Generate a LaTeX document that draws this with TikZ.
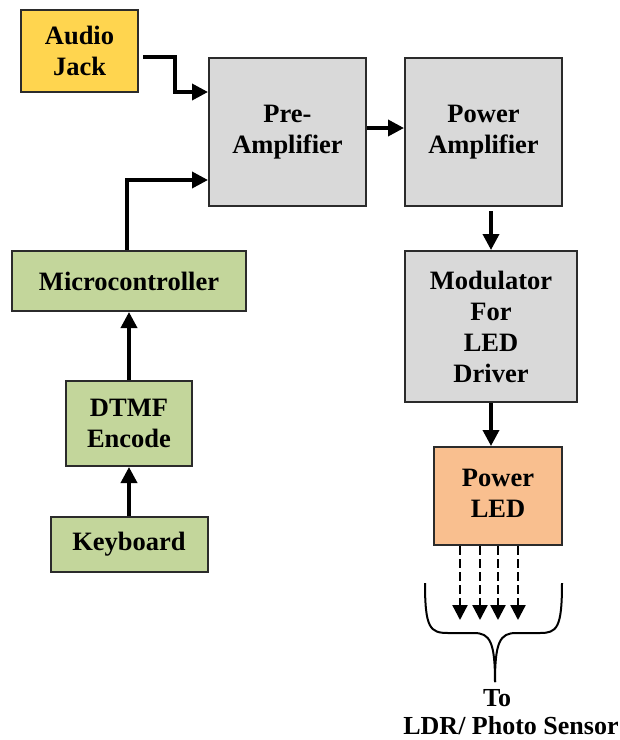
\documentclass[tikz,border=0pt]{standalone}
\usepackage{fontspec}
\setmainfont{Liberation Serif}
\usetikzlibrary{arrows.meta}
\definecolor{cyel}{HTML}{FFD54F}
\definecolor{cgray}{HTML}{D9D9D9}
\definecolor{cgreen}{HTML}{C3D69B}
\definecolor{corange}{HTML}{F9BF8F}
\definecolor{cedge}{HTML}{2B2B2B}
\begin{document}
\begin{tikzpicture}[x=1pt,y=-1pt,
  blk/.style={draw=cedge,line width=2pt,align=center,inner sep=0pt,
    font=\fontsize{26.5}{31}\selectfont\bfseries},
  arr/.style={line width=3.6pt,-{Triangle[length=16pt,width=16pt]}},
  darr/.style={line width=2.3pt,dash pattern=on 9pt off 4pt,-{Triangle[length=15pt,width=15pt]}},
  lbl/.style={font=\fontsize{26}{31}\selectfont\bfseries,inner sep=0pt}]
\useasboundingbox (0,0) rectangle (620,740);
\node[blk,fill=cyel,minimum width=117pt,minimum height=82pt] (audio) at (79.5,51) {Audio\\Jack};
\node[blk,fill=cgray,minimum width=157pt,minimum height=148pt] (pre) at (287.5,132) {Pre-\\Amplifier};
\node[blk,fill=cgray,minimum width=157pt,minimum height=148pt] (pow) at (483.5,132) {Power\\Amplifier};
\node[blk,fill=cgray,minimum width=172pt,minimum height=151pt] (mod) at (491,326.5) {Modulator\\For\\LED\\Driver};
\node[blk,fill=corange,minimum width=128pt,minimum height=98pt] (led) at (498,496) {\raisebox{7pt}{\begin{tabular}{@{}c@{}}Power\\LED\end{tabular}}};
\node[blk,fill=cgreen,minimum width=234pt,minimum height=60pt] (micro) at (129,281) {Microcontroller};
\node[blk,fill=cgreen,minimum width=126pt,minimum height=85pt] (dtmf) at (129,423.5) {DTMF\\Encode};
\node[blk,fill=cgreen,minimum width=157pt,minimum height=55pt] (kb) at (129,544.5) {Keyboard};

% connectors
\draw[arr] ([shift={(4pt,-6pt)}]audio.east) -- ++(32,0) |- ([yshift=40pt]pre.west);
\draw[arr] ([xshift=-2pt]micro.north) |- ([yshift=-48pt]pre.west);
\draw[arr] ([yshift=4pt]pre.east) -- ([yshift=4pt]pow.west);
\draw[arr,shorten <=4pt] (pow.south -| mod.north) -- (mod.north);
\draw[arr] (mod.south) -- (mod.south |- led.north);
\draw[arr] (dtmf.north) -- (micro.south);
\draw[arr] (kb.north) -- (dtmf.south);

% light rays
\foreach \dx/\nm in {-38/r1,-18/r2,0/r3,20/r4}{
  \coordinate (\nm) at ([xshift=\dx pt,yshift=-74pt]led.south);
  \draw[darr] ([xshift=\dx pt]led.south) -- (\nm);
}

% brace
\draw[line width=2pt] (425,583) .. controls (425,628) and (430,633) .. (448,633)
  -- (474,633) .. controls (490,633) and (495,642) .. (495,682);
\draw[line width=2pt] (562,583) .. controls (562,628) and (557,633) .. (540,633)
  -- (516,633) .. controls (500,633) and (495,642) .. (495,682);

\node[lbl,anchor=base] (to) at (497,706) {To};
\node[lbl,anchor=base] (ldr) at (511,734) {LDR/ Photo Sensor};
\end{tikzpicture}
\end{document}
